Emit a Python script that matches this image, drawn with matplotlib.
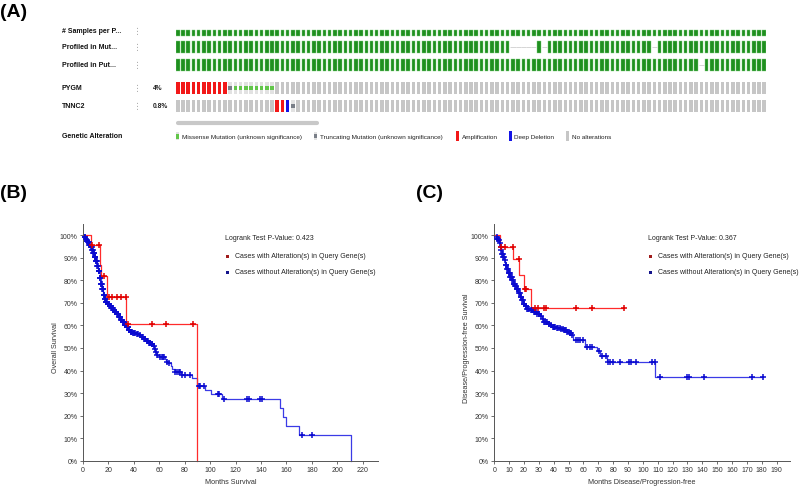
import numpy as np
import matplotlib
matplotlib.use('Agg')
import matplotlib.pyplot as plt
from matplotlib.patches import Rectangle

plt.rcParams['font.family'] = ['Liberation Sans', 'DejaVu Sans']

# ---------------- Panel A data (oncoprint) ----------------
n_samples = 113
track_labels = ['# Samples per P...', 'Profiled in Mut...', 'Profiled in Put...', 'PYGM', 'TNNC2']
gene_freq = ['4%', '0.8%']
mut_unprofiled = [64, 65, 66, 67, 68, 70, 91]
put_unprofiled = [100]
pygm_amp = [0, 1, 2, 3, 4, 5, 6, 7, 8, 9]
pygm_trunc = [10]
pygm_missense = [11, 12, 13, 14, 15, 16, 17, 18]
tnnc2_amp = [19, 20]
tnnc2_del = [21]
tnnc2_trunc = [22]
onco_legend = ['Missense Mutation (unknown significance)', 'Truncating Mutation (unknown significance)',
               'Amplification', 'Deep Deletion', 'No alterations']

# ---------------- Panel B data (overall survival) ----------------
b_alt_event_t = [6, 13, 14.5, 19, 34, 90]
b_alt_event_s = [0.957, 0.87, 0.82, 0.727, 0.605, 0.0]
b_alt_end = 90
b_alt_cens = [7, 12.5, 16.7, 20.5, 23, 27, 30, 33.5, 35, 54.2, 65.4, 86.4]

b_un_event_t = [1, 2, 3, 4, 5, 6, 7, 8, 9, 10, 11, 12, 13, 14, 15, 16, 17, 18, 19, 20.5, 22, 23.5, 25,
                26.5, 28, 29.5, 31, 32.5, 34, 35.5, 37, 39, 41.5, 44, 46, 47.5, 49.5, 51.5, 53.5, 55, 56,
                57, 58, 59.5, 64.5, 65.5, 67, 69, 70, 72, 77, 85.5, 89.5, 96, 100.5, 109, 155, 157.5,
                160, 170, 211]
b_un_event_s = [0.992, 0.985, 0.975, 0.968, 0.958, 0.947, 0.935, 0.92, 0.905, 0.885, 0.863, 0.84, 0.812,
                0.785, 0.76, 0.735, 0.718, 0.706, 0.697, 0.688, 0.678, 0.668, 0.66, 0.652, 0.638, 0.626,
                0.615, 0.603, 0.592, 0.58, 0.572, 0.566, 0.562, 0.557, 0.55, 0.54, 0.532, 0.524, 0.516,
                0.508, 0.496, 0.483, 0.47, 0.462, 0.452, 0.44, 0.432, 0.418, 0.405, 0.394, 0.379, 0.365,
                0.332, 0.313, 0.295, 0.273, 0.232, 0.192, 0.155, 0.115, 0.0]
b_un_end = 211
b_un_cens = [1.2, 1.8, 2.5, 3.0, 3.5, 4.0, 4.5, 5.0, 5.5, 6.2, 6.7, 7.2, 7.5, 8.0, 8.5, 8.8, 9.2, 9.5,
             9.8, 10.2, 10.5, 10.8, 11.3, 11.8, 12.2, 12.5, 12.8, 13.2, 13.6, 14.0, 14.3, 14.8, 15.2,
             15.5, 15.9, 16.3, 16.8, 17.2, 17.5, 18.0, 18.3, 18.8, 19.4, 20.0, 20.4, 21.0, 21.4, 21.7,
             22.2, 22.5, 23.0, 23.3, 24.0, 24.3, 24.6, 25.2, 25.5, 26.0, 26.3, 27.0, 27.5, 27.8, 28.5,
             29.0, 29.3, 30.0, 30.5, 31.2, 31.5, 32.0, 32.8, 33.0, 33.5, 34.5, 35.0, 35.3, 36.0, 36.5,
             37.5, 38.0, 38.5, 39.5, 40.5, 41.2, 42.5, 43.5, 45.0, 46.5, 47.0, 48.0, 48.5, 49.0, 50.0,
             51.0, 52.0, 52.8, 53.0, 54.0, 54.5, 55.5, 56.5, 57.5, 58.5, 60.5, 62.0, 63.3, 64.0, 66.0,
             68.0, 72.5, 73.8, 75.6, 76.6, 78.0, 80.5, 83.9, 91.0, 92.4, 95.3, 105.8, 107.0, 110.7,
             129.0, 130.6, 139.0, 140.6, 172.5, 180.3]
b_xticks = [0, 20, 40, 60, 80, 100, 120, 140, 160, 180, 200, 220]
b_pvalue = 'Logrank Test P-Value: 0.423'

# ---------------- Panel C data (disease/progression-free) ----------------
c_alt_event_t = [3.8, 12.8, 16.8, 20.0, 24.5]
c_alt_event_s = [0.948, 0.893, 0.825, 0.76, 0.677]
c_alt_end = 87.5
c_alt_cens = [4.5, 7.2, 12.6, 16.4, 20.4, 21.3, 27.4, 29.6, 33.7, 34.8, 55.0, 65.9, 87.5]

c_un_event_t = [1.0, 2.0, 2.7, 3.3, 3.8, 4.4, 4.9, 5.8, 6.8, 7.5, 8.3, 9.5, 10.6, 11.7, 12.8, 14.0, 15.0,
                16.2, 17.3, 18.4, 19.5, 20.6, 21.8, 24.0, 26.2, 28.5, 30.8, 32.0, 33.0, 36.3, 37.5, 38.6,
                42.0, 44.5, 46.4, 48.7, 50.5, 52.0, 53.2, 61.0, 68.9, 71.0, 75.9, 108.3]
c_un_event_s = [0.993, 0.985, 0.978, 0.965, 0.948, 0.933, 0.918, 0.903, 0.889, 0.87, 0.852, 0.833, 0.815,
                0.8, 0.785, 0.774, 0.763, 0.745, 0.726, 0.711, 0.696, 0.685, 0.674, 0.667, 0.66, 0.652,
                0.644, 0.63, 0.615, 0.607, 0.6, 0.593, 0.588, 0.583, 0.578, 0.571, 0.565, 0.559, 0.535,
                0.504, 0.485, 0.464, 0.437, 0.373]
c_un_end = 181
c_un_cens = [1.5, 2.0, 2.3, 3.0, 3.5, 4.2, 4.7, 5.3, 5.6, 6.0, 6.5, 7.2, 7.8, 8.2, 8.7, 9.2, 9.6, 10.0,
             10.3, 10.8, 11.2, 11.6, 12.0, 12.5, 13.0, 13.3, 13.7, 14.2, 14.5, 15.2, 15.5, 15.9, 16.6,
             17.0, 17.8, 18.2, 18.9, 19.3, 19.9, 20.3, 21.0, 21.5, 22.3, 23.0, 23.5, 24.5, 25.2, 25.8,
             26.8, 27.5, 28.2, 29.0, 29.8, 30.3, 31.4, 32.5, 33.6, 34.2, 35.0, 35.6, 36.5, 37.0, 38.0,
             39.2, 40.0, 40.5, 41.0, 42.5, 43.0, 44.0, 45.0, 46.0, 47.0, 47.8, 48.5, 49.2, 50.0, 50.8,
             51.2, 51.8, 52.5, 54.8, 56.1, 57.7, 59.9, 62.6, 64.4, 66.0, 70.5, 72.5, 75.5, 76.7, 77.9,
             80.1, 84.6, 90.8, 91.9, 95.3, 106.3, 108.0, 111.5, 129.5, 131.2, 141.1, 173.6, 181.0]
c_xticks = [0, 10, 20, 30, 40, 50, 60, 70, 80, 90, 100, 110, 120, 130, 140, 150, 160, 170, 180, 190]
c_pvalue = 'Logrank Test P-Value: 0.367'

y_ticks = [0, 0.1, 0.2, 0.3, 0.4, 0.5, 0.6, 0.7, 0.8, 0.9, 1.0]
y_ticklabels = ['0%', '10%', '20%', '30%', '40%', '50%', '60%', '70%', '80%', '90%', '100%']
km_legend = ['Cases with Alteration(s) in Query Gene(s)', 'Cases without Alteration(s) in Query Gene(s)']

# ---------------- figure ----------------
W, H = 800, 489
fig = plt.figure(figsize=(8, 4.89), dpi=100)

GREEN = '#1f8f1f'
GRAY = '#c6c6c6'
LIGHT = '#e2e2e2'
MISS = '#62c64a'
TRUNC = '#7a7f88'
RED = '#f21818'
BLUE = '#1414e6'

# Oncoprint axes: x = sample column index, y = pixel rows
axA = fig.add_axes([176 / W, 1 - 116 / H, 590 / W, 90 / H])
axA.set_xlim(-0.335, n_samples - 1 + 0.335)
axA.set_ylim(116, 26)
axA.axis('off')
bw = 0.67
cols = np.arange(n_samples)
rows = [(30.5, 6.0), (41.5, 12.5), (59.5, 12.5), (82.5, 12.5), (100.5, 12.5)]

axA.bar(cols, rows[0][1], bottom=rows[0][0], width=bw, color=GREEN, edgecolor='#7fcf7f', linewidth=0.3)
for r, missing in ((1, mut_unprofiled), (2, put_unprofiled)):
    top, h = rows[r]
    present = [c for c in cols if c not in missing]
    axA.bar(present, h, bottom=top, width=bw, color=GREEN, edgecolor='#7fcf7f', linewidth=0.3)
    for c in missing:
        axA.hlines(top + h / 2, c - 0.5, c + 0.5, colors='#cfcfcf', linewidth=0.6)


def gene_track(r, amp, dele, trunc, miss):
    top, h = rows[r]
    special = set(amp) | set(dele) | set(trunc) | set(miss)
    none = [c for c in cols if c not in special]
    axA.bar(none, h, bottom=top, width=bw, color=GRAY, linewidth=0)
    if trunc or miss:
        axA.bar(list(trunc) + list(miss), h, bottom=top, width=bw, color=LIGHT, linewidth=0)
    if amp:
        axA.bar(amp, h, bottom=top, width=bw, color=RED, linewidth=0)
    if dele:
        axA.bar(dele, h, bottom=top, width=bw, color=BLUE, linewidth=0)
    if trunc:
        axA.bar(trunc, h / 3, bottom=top + h / 3, width=bw, color=TRUNC, linewidth=0)
    if miss:
        axA.bar(miss, h / 3, bottom=top + h / 3, width=bw, color=MISS, linewidth=0)


gene_track(3, pygm_amp, [], pygm_trunc, pygm_missense)
gene_track(4, tnnc2_amp, tnnc2_del, tnnc2_trunc, [])
axA.plot([0, 26.5], [124, 124], color='#c8c8c8', lw=3, solid_capstyle='round', clip_on=False)


# ---------------- KM panels ----------------
def km(ax, ev_t, ev_s, end_t, cens, lc, mc):
    t = np.concatenate([[0.0], ev_t, [end_t]])
    s = np.concatenate([[1.0], ev_s, [ev_s[-1]]])
    ax.plot(t, s, drawstyle='steps-post', color=lc, lw=0.9, clip_on=False, zorder=2)
    et = np.concatenate([[0.0], ev_t])
    es = np.concatenate([[1.0], ev_s])
    idx = np.searchsorted(et, cens, side='right') - 1
    ax.plot(cens, es[idx], linestyle='none', marker='+', markersize=4.2, mew=1.1, color=mc,
            clip_on=False, zorder=3)


def style(ax, xlim, xticks, xlabel, ylabel):
    ax.set_facecolor('none')
    ax.set_xlim(*xlim)
    ax.set_ylim(0, 1.05)
    for sp in ('top', 'right'):
        ax.spines[sp].set_visible(False)
    for sp in ('left', 'bottom'):
        ax.spines[sp].set_color('#555555')
        ax.spines[sp].set_linewidth(0.7)
    ax.set_xticks(xticks)
    ax.set_xticklabels([str(v) for v in xticks])
    ax.set_yticks(y_ticks)
    ax.set_yticklabels(y_ticklabels)
    ax.tick_params(direction='out', length=2.5, width=0.6, color='#555555', labelsize=5,
                   labelcolor='#333333', pad=1.5)
    ax.set_xlabel(xlabel, fontsize=5.2, color='#333333')
    ax.set_ylabel(ylabel, fontsize=5.2, color='#333333')
    ax.xaxis.set_label_coords(0.5, -0.075)
    ax.yaxis.set_label_coords(-0.083, 0.48)


axB = fig.add_axes([83 / W, 1 - 461.7 / H, 295 / W, 236.7 / H])
style(axB, (0, 232), b_xticks, 'Months Survival', 'Overall Survival')
km(axB, b_un_event_t, b_un_event_s, b_un_end, b_un_cens, '#3b3be6', '#0a0ad0')
km(axB, b_alt_event_t, b_alt_event_s, b_alt_end, b_alt_cens, '#ff2b2b', '#e00000')

axC = fig.add_axes([494.3 / W, 1 - 461.7 / H, 295.7 / W, 236.7 / H])
style(axC, (0, 199), c_xticks, 'Months Disease/Progression-free', 'Disease/Progression-free Survival')
km(axC, c_un_event_t, c_un_event_s, c_un_end, c_un_cens, '#3b3be6', '#0a0ad0')
km(axC, c_alt_event_t, c_alt_event_s, c_alt_end, c_alt_cens, '#ff2b2b', '#e00000')

# ---------------- overlay texts (pixel coordinates) ----------------
ov = fig.add_axes([0, 0, 1, 1], zorder=10)
ov.set_xlim(0, W)
ov.set_ylim(H, 0)
ov.axis('off')

for lab, x, y in (('(A)', 0, 4), ('(B)', 0, 185), ('(C)', 416, 185)):
    ov.text(x, y, lab, fontsize=14, fontweight='bold', ha='left', va='top')

label_y = [31.5, 47.5, 65.5, 89, 106.7]
for lab, y in zip(track_labels, label_y):
    ov.text(62, y, lab, fontsize=5, fontweight='bold', ha='left', va='center', color='#111111')
    ov.text(137.5, y, '\u22ee', fontsize=6.5, ha='center', va='center', color='#aaaaaa',
            family='DejaVu Sans')
for f, y in zip(gene_freq, label_y[3:]):
    ov.text(153, y, f, fontsize=4.8, fontweight='bold', ha='left', va='center', color='#222222')
ov.text(62, 136, 'Genetic Alteration', fontsize=5, fontweight='bold', ha='left', va='center',
        color='#111111')

leg_x = [176, 314, 456, 509, 566]
ov.add_patch(Rectangle((leg_x[0], 133), 3, 8, color=LIGHT, lw=0))
ov.add_patch(Rectangle((leg_x[0], 134.5), 3, 5, color=MISS, lw=0))
ov.add_patch(Rectangle((leg_x[1], 133), 3, 8, color=LIGHT, lw=0))
ov.add_patch(Rectangle((leg_x[1], 135), 3, 4, color=TRUNC, lw=0))
ov.add_patch(Rectangle((leg_x[2], 132), 3, 10, color=RED, lw=0))
ov.add_patch(Rectangle((leg_x[3], 132), 3, 10, color=BLUE, lw=0))
ov.add_patch(Rectangle((leg_x[4], 132), 3, 10, color=GRAY, lw=0))
for lab, x in zip(onco_legend, leg_x):
    ov.text(x + 5.5, 137.5, lab, fontsize=4.6, ha='left', va='center', color='#222222')

for px, pv in ((225, b_pvalue), (648, c_pvalue)):
    ov.text(px, 239, pv, fontsize=5, ha='left', va='center', color='#222222')
    ov.add_patch(Rectangle((px + 1, 255.5), 3, 3, color='#a01c1c', lw=0))
    ov.add_patch(Rectangle((px + 1, 271.5), 3, 3, color='#14148c', lw=0))
    ov.text(px + 10, 257, km_legend[0], fontsize=5, ha='left', va='center', color='#222222')
    ov.text(px + 10, 273, km_legend[1], fontsize=5, ha='left', va='center', color='#222222')

fig.savefig('out.png', dpi=100)
